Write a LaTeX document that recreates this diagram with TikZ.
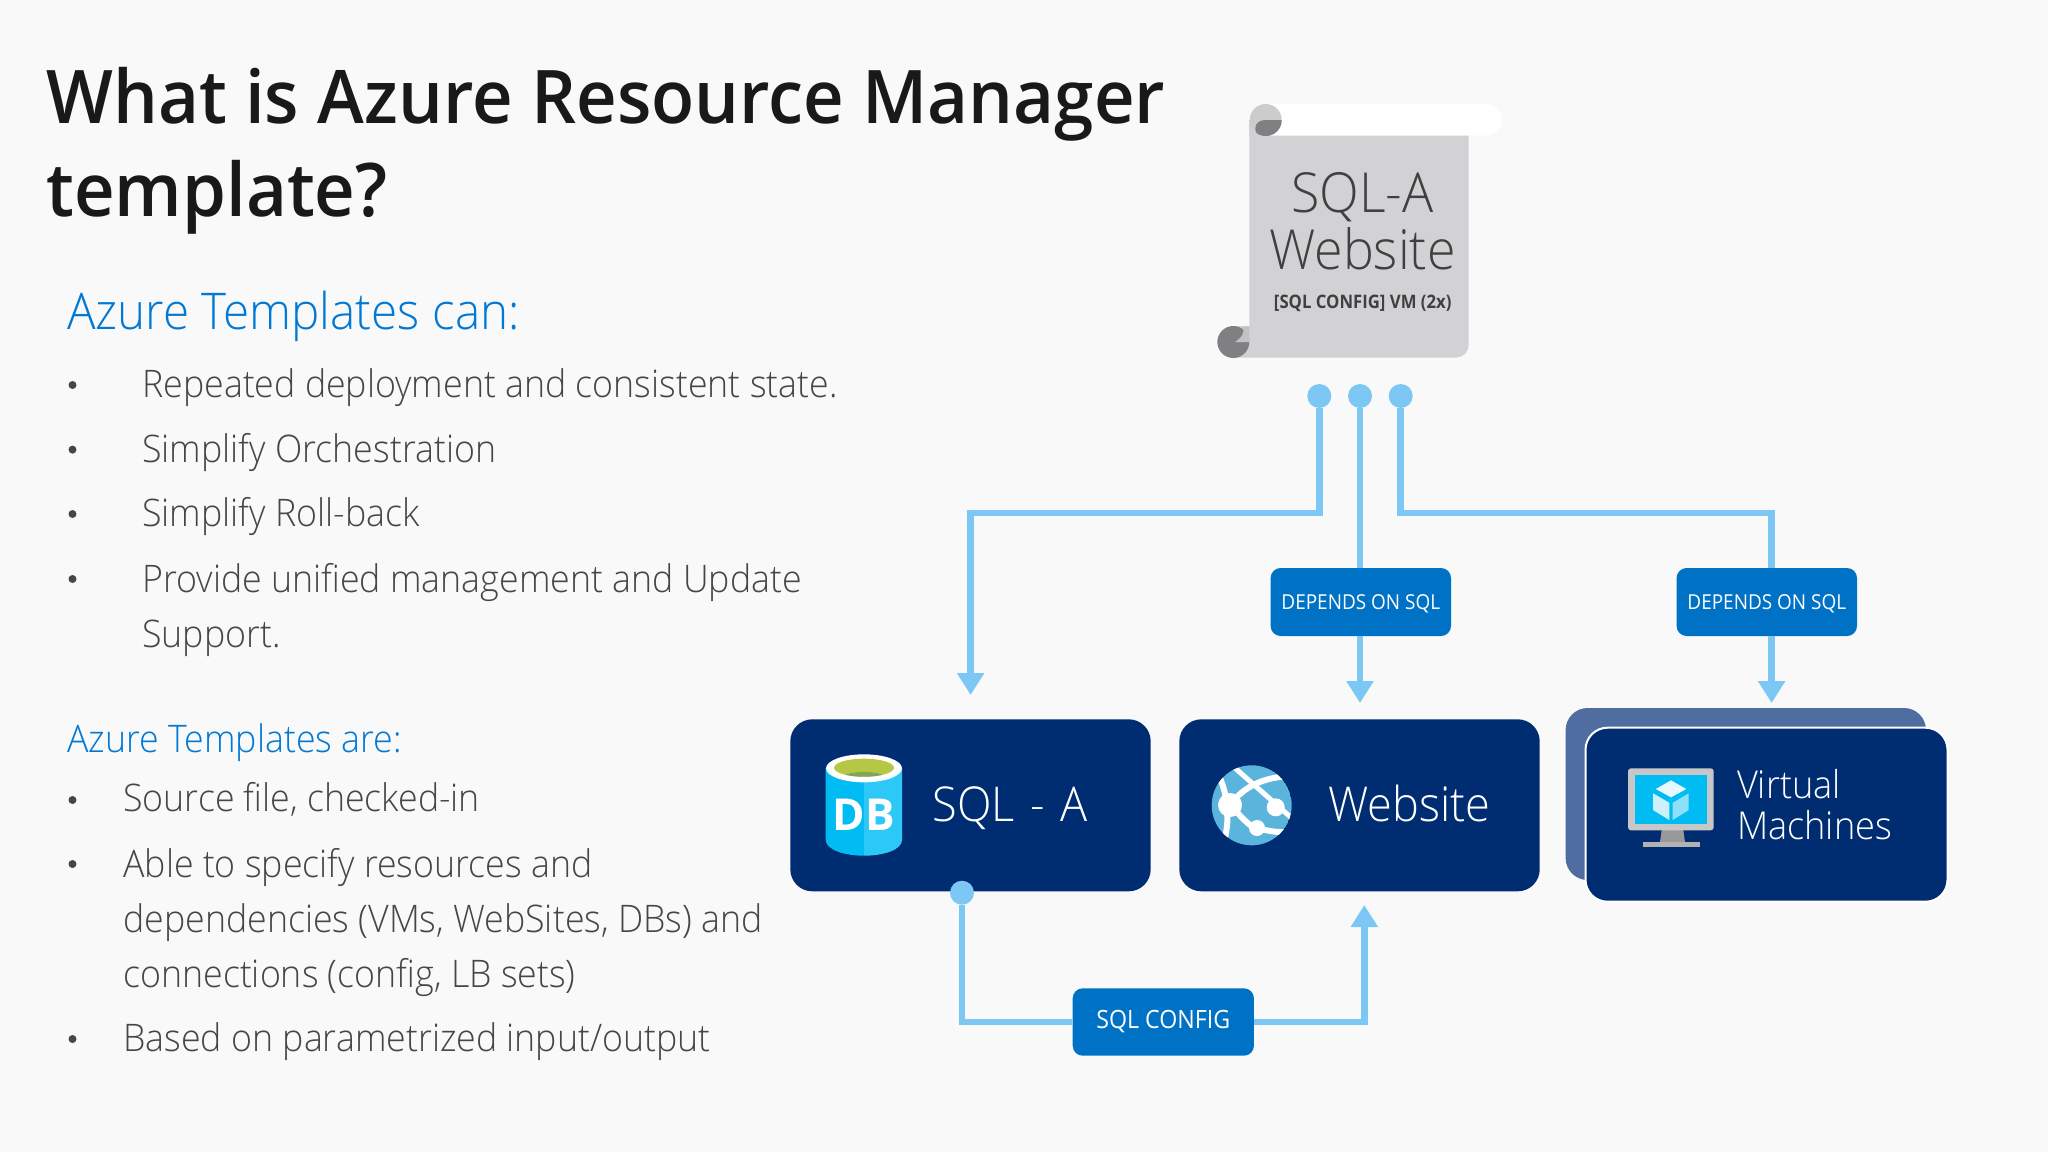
\documentclass[tikz,border=0pt]{standalone}
\usepackage{fontspec}
\setmainfont{Open Sans}
\newfontfamily\lightface{Open Sans}[UprightFont=* Light,FakeStretch=0.94]
\newfontfamily\plainface{Open Sans}[FakeStretch=0.92]
\newfontfamily\heavyface{Open Sans}[UprightFont=* Semibold,FakeStretch=0.955]
\newfontfamily\noteface{Open Sans}[UprightFont=* Bold,FakeStretch=0.9]
\usetikzlibrary{arrows.meta,positioning}

\definecolor{pagebg}{HTML}{F9F9FA}
\definecolor{navy}{HTML}{002D72}
\definecolor{backnavy}{HTML}{4F6DA1}
\definecolor{tagblue}{HTML}{0072C6}
\definecolor{linkblue}{HTML}{7CC7F3}
\definecolor{headblue}{HTML}{0078D4}
\definecolor{bodygray}{HTML}{464646}
\definecolor{scrollgray}{HTML}{D2D2D5}
\definecolor{curlgray}{HTML}{808083}
\definecolor{dbleft}{HTML}{00BCF2}
\definecolor{dbright}{HTML}{2CC9F6}
\definecolor{dbrim}{HTML}{B5C744}
\definecolor{dbwater}{HTML}{7FA65A}
\definecolor{globeblue}{HTML}{5BB4DB}

\tikzset{
    heading/.style={anchor=base west,inner sep=0pt,text=black!90,align=left,
        font=\heavyface\fontsize{37}{46.5}\selectfont},
    subhead/.style={anchor=base west,inner sep=0pt,text=headblue},
    item/.style={anchor=base west,inner sep=0pt,text=bodygray,align=left,
        font=\lightface\fontsize{19}{27.5}\selectfont},
    bullet/.style={circle,fill=bodygray,inner sep=0pt,minimum size=4pt},
    resource/.style={rectangle,rounded corners=11pt,fill=navy,minimum width=180.2pt,minimum height=86pt},
    restext/.style={anchor=base west,inner sep=0pt,text=white,align=left},
    tag/.style={rectangle,rounded corners=5pt,fill=tagblue,text=white,inner sep=0pt,text depth=0pt},
    deptag/.style={tag,minimum width=90.2pt,minimum height=34pt,text height=7pt,
        font=\plainface\fontsize{10.3}{12}\selectfont},
    port/.style={circle,fill=linkblue,inner sep=0pt,minimum size=12pt},
    link/.style={draw=linkblue,line width=3.4pt},
}

\begin{document}
\begin{tikzpicture}[x=0.5pt,y=-0.5pt,>={Triangle[length=11pt,width=13pt]}]

    % Page
    \fill [pagebg] (0,0) rectangle (2048,1152);
    \useasboundingbox (0,0) rectangle (2048,1152);

    % Title
    \node [heading] (title) at (46,216) {What is Azure Resource Manager\\template?};

    % First list
    \node [subhead,font=\lightface\fontsize{25.3}{32}\selectfont] (canhead) at (67,329) {Azure Templates can:};
    \node [bullet] (b1) at (72.5,385) {};
    \node [item] (can1) at (142,397) {Repeated deployment and consistent state.};
    \node [bullet] (b2) at (72.5,449.6) {};
    \node [item] (can2) at (142,462) {Simplify Orchestration};
    \node [bullet] (b3) at (72.5,514) {};
    \node [item] (can3) at (142,526) {Simplify Roll-back};
    \node [bullet] (b4) at (72.5,579) {};
    \node [item] (can4) at (142,647) {Provide unified management and Update\\Support.};

    % Second list
    \node [subhead,font=\lightface\fontsize{19}{26}\selectfont] (arehead) at (67,752.3) {Azure Templates are:};
    \node [bullet] (b5) at (72.5,800) {};
    \node [item] (are1) at (123,811.7) {Source file, checked-in};
    \node [bullet] (b6) at (72.5,864) {};
    \node [item] (are2) at (123,987) {Able to specify resources and\\dependencies (VMs, WebSites, DBs) and\\connections (config, LB sets)};
    \node [bullet] (b7) at (72.5,1039) {};
    \node [item] (are3) at (123,1051.7) {Based on parametrized input/output};

    % Scroll
    \fill [white,rounded corners=8pt] (1250,104) rectangle (1501.7,135.7);
    \fill [scrollgray] (1249.3,135.7) -- (1468.7,135.7) [rounded corners=6.5pt] -- (1468.7,357.7) [sharp corners] -- (1233,357.7) -- (1233,326) -- (1249.3,326) -- cycle;
    \fill [scrollgray] (1249.3,120) rectangle (1270,136);
    \fill [black!20] (1265.7,120) circle (16);
    \begin{scope}
        \clip (1265.7,120) circle (16);
        \fill [curlgray] (1281.7,120) -- (1265,120) .. controls (1260,120) and (1255.5,123) .. (1255.3,128) .. controls (1255,133) and (1258,136) .. (1263,136) -- (1281.7,136) -- cycle;
    \end{scope}
    \fill [curlgray] (1233.3,342) circle (16);
    \fill [black!24] (1249.3,326.7) -- (1242,326.7) .. controls (1246,333) and (1241,338) .. (1235,342) -- (1249.3,342) -- cycle;
    \node [inner sep=0pt,anchor=base,text=black!75,font=\lightface\fontsize{27.6}{28.2}\selectfont,align=center] (scrolltext) at (1362.5,269) {SQL-A\\Website};
    \node [inner sep=0pt,anchor=base,text=black!75,font=\noteface\fontsize{9.3}{11}\selectfont] (scrollnote) at (1362.7,308) {[SQL CONFIG] VM (2x)};

    % Resource boxes
    \node [resource] (sql) at (970.5,805.3) {};
    \node [resource] (web) at (1359.5,805.3) {};
    \node [resource,fill=backnavy] (vmback) at (1745.8,794) {};
    \node [resource,draw=white,line width=1pt,minimum width=181pt,minimum height=87pt] (vm) at (1766.5,814.7) {};

    \node [restext,font=\lightface\fontsize{24}{28}\selectfont] (sqltext) at (932,821) {SQL\hspace{2pt} -\hspace{2pt} A};
    \node [restext,font=\lightface\fontsize{24}{28}\selectfont] (webtext) at (1328,821) {Website};
    \node [restext,font=\lightface\fontsize{19.2}{20.4}\selectfont] (vmtext) at (1736.7,839) {Virtual\\Machines};

    % DB icon
    \fill [dbleft] (825.7,768) -- (825.7,840) .. controls (826,850) and (845,855.7) .. (864,855.7) -- (864,768) -- cycle;
    \fill [dbright] (902,768) -- (902,840) .. controls (902,850) and (883,855.7) .. (864,855.7) -- (864,768) -- cycle;
    \fill [white] (864,768.3) ellipse (38 and 14);
    \begin{scope}
        \clip (864,767.7) ellipse (30 and 9);
        \fill [dbrim] (830,755) rectangle (898,780);
        \fill [dbwater] (864,778) ellipse (22 and 6);
    \end{scope}
    \node [inner sep=0pt,text=white,font=\bfseries\fontsize{22}{24}\selectfont] (dbtext) at (864,815) {DB};

    % Globe icon
    \begin{scope}
        \clip (1251.7,805.3) circle (40);
        \fill [globeblue] (1251.7,805.3) circle (40);
        \draw [white,line width=2.5pt] (1235,768) -- (1295,821);
        \draw [white,line width=3pt] (1230,805) .. controls (1245,785) and (1265,777) .. (1292,776);
        \draw [white,line width=3pt] (1230,805) .. controls (1240,815) and (1250,828) .. (1257,828) .. controls (1265,830) and (1275,833) .. (1292,832);
        \draw [white,line width=3pt] (1220,778) .. controls (1227,795) and (1230,815) .. (1225,838);
    \end{scope}
    \fill [white] (1230,805) circle (12);
    \fill [white] (1275.7,807.3) circle (9);
    \fill [white] (1257,828) circle (8);

    % Monitor icon
    \fill [black!40] (1661.7,830) -- (1683.3,830) -- (1685,842) -- (1660,842) -- cycle;
    \fill [black!30] (1643,841.7) rectangle (1699.7,847.3);
    \fill [black!22,rounded corners=1.5pt] (1628,768.3) rectangle (1713.7,830.3);
    \fill [dbleft] (1634.7,774.7) rectangle (1707,824);
    \fill [dbleft!10!white] (1671,780.3) -- (1686.3,789) -- (1671,797.3) -- (1655.7,789) -- cycle;
    \fill [dbleft!20!white] (1653,793.3) -- (1669.3,802.7) -- (1669.3,820) -- (1653,810) -- cycle;
    \fill [dbleft!45!white] (1672.7,802.7) -- (1688.7,793.3) -- (1688.7,810) -- (1672.7,820) -- cycle;

    % Ports under the scroll
    \node [port] (porta) at (1319.3,396) {};
    \node [port] (portb) at (1360,396) {};
    \node [port] (portc) at (1400.7,396) {};
    \node [port] (portsql) at (962,892.7) {};

    % Free ends of the connectors
    \coordinate (bus) at (0,513);
    \coordinate (tipsql) at (970.6,695);
    \coordinate (tipweb) at (1360,703);
    \coordinate (tipvm) at (1771.6,703);
    \coordinate (tipcfg) at (1364.3,905);

    % Tags
    \node [deptag] (dep1) at (1360.8,602) {DEPENDS ON SQL};
    \node [deptag] (dep2) at (1766.8,602) {DEPENDS ON SQL};
    \node [tag,minimum width=90.6pt,minimum height=33.7pt,text height=6.5pt,font=\plainface\fontsize{12.6}{14}\selectfont] (cfg) at (1163.3,1022) {SQL CONFIG};

    % Connectors
    \draw [->,link] (porta) -- (porta |- bus) -| (tipsql);
    \draw [link] (portb) -- (dep1.north -| portb);
    \draw [->,link] (dep1.south -| tipweb) -- (tipweb);
    \draw [link] (portc) -- (portc |- bus) -| (dep2.north -| tipvm);
    \draw [->,link] (dep2.south -| tipvm) -- (tipvm);
    \draw [link] (portsql) |- (cfg);
    \draw [->,link] (cfg) -| (tipcfg);

\end{tikzpicture}
\end{document}
